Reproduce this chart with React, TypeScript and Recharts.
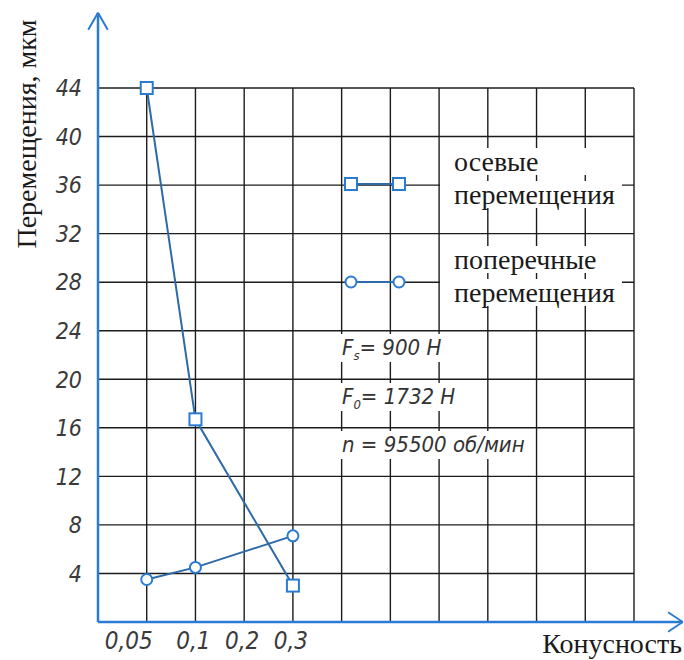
import React from "react";
import { LineChart, Line, XAxis, YAxis, CartesianGrid, ReferenceLine, Legend } from "recharts";

const categories = ["0,05", "0,1", "0,2", "0,3"];
const axialValues = [44, 16.7, null, 3.0];
const radialValues = [3.5, 4.5, null, 7.1];
const yTicks = [4, 8, 12, 16, 20, 24, 28, 32, 36, 40, 44];
const gridX = [1, 2, 3, 4, 5, 6, 7, 8, 9, 10, 11];

const data = categories.map((label, i) => ({
  pos: i + 1,
  label,
  axial: axialValues[i],
  radial: radialValues[i],
}));

const AXIS_BLUE = "#2a7bd2";
const LINE_BLUE = "#2e6aa8";
const GOST = "'Liberation Sans Narrow', 'DejaVu Sans Condensed', sans-serif";
const SERIF = "'Liberation Serif', 'DejaVu Serif', serif";

const SquareDot = (props: any) => {
  const { cx, cy, index } = props;
  if (cx == null || cy == null) return <g key={`sq-${index}`} />;
  return (
    <rect key={`sq-${index}`} x={cx - 6} y={cy - 6} width={12} height={12} fill="#fff" stroke={AXIS_BLUE} strokeWidth={2} />
  );
};

const CircleDot = (props: any) => {
  const { cx, cy, index } = props;
  if (cx == null || cy == null) return <g key={`ci-${index}`} />;
  return <circle key={`ci-${index}`} cx={cx} cy={cy} r={5.5} fill="#fff" stroke={AXIS_BLUE} strokeWidth={2} />;
};

const XTick = (props: any) => {
  const { x, y, payload, index } = props;
  const label = categories[payload.value - 1];
  return (
    <text x={index === 0 ? x + 6 : x - 2} y={y + 19} textAnchor={index === 0 ? "end" : "middle"} fontFamily={GOST} fontStyle="italic" fontSize={24} fill="#3a3a3a">
      {label}
    </text>
  );
};

const YTick = (props: any) => {
  const { x, y, payload } = props;
  return (
    <text x={x - 8} y={y} dy="0.36em" textAnchor="end" fontFamily={GOST} fontStyle="italic" fontSize={23} fill="#3a3a3a">
      {payload.value}
    </text>
  );
};

const legendRows = [
  { y: 184, square: true },
  { y: 282, square: false },
];

const renderLegend = (props: any) => {
  const { payload } = props;
  return (
    <div style={{ position: "relative", width: 684, height: 660 }}>
      {(payload || []).map((entry: any, i: number) => {
        const row = legendRows[i];
        const words = String(entry.value).split(" ");
        return (
          <React.Fragment key={entry.value}>
            <svg style={{ position: "absolute", left: 340, top: row.y - 10 }} width={70} height={20}>
              <line x1={11} y1={10} x2={59} y2={10} stroke={LINE_BLUE} strokeWidth={2} />
              {row.square ? (
                <>
                  <rect x={5} y={4} width={12} height={12} fill="#fff" stroke={AXIS_BLUE} strokeWidth={2} />
                  <rect x={53} y={4} width={12} height={12} fill="#fff" stroke={AXIS_BLUE} strokeWidth={2} />
                </>
              ) : (
                <>
                  <circle cx={11} cy={10} r={5.5} fill="#fff" stroke={AXIS_BLUE} strokeWidth={2} />
                  <circle cx={59} cy={10} r={5.5} fill="#fff" stroke={AXIS_BLUE} strokeWidth={2} />
                </>
              )}
            </svg>
            {words.map((w, j) => (
              <div
                key={w + j}
                style={{
                  position: "absolute",
                  left: 440,
                  width: 182,
                  top: row.y - 36 + j * 33,
                  height: 27,
                  lineHeight: "27px",
                  paddingLeft: 14,
                  boxSizing: "border-box",
                  background: "#fff",
                  fontFamily: SERIF,
                  fontSize: 28,
                  color: "#1a1a1a",
                  whiteSpace: "nowrap",
                }}
              >
                {w}
              </div>
            ))}
          </React.Fragment>
        );
      })}
    </div>
  );
};

const notes = [
  { main: "F", sub: "s", rest: "= 900 Н", y: 334 },
  { main: "F", sub: "0", rest: "= 1732 Н", y: 383 },
  { main: "n", sub: "", rest: " = 95500 об/мин", y: 431 },
];

export default function App() {
  return (
    <div style={{ position: "absolute", left: 0, top: 0, width: 684, height: 660, background: "#fff" }}>
      <LineChart width={684} height={660} data={data} margin={{ top: 88, right: 50, bottom: 0, left: 0 }}>
        <CartesianGrid horizontalValues={yTicks} verticalValues={gridX} stroke="#1c1c1c" strokeWidth={1.4} />
        <XAxis
          dataKey="pos"
          type="number"
          domain={[0, 11]}
          ticks={[1, 2, 3, 4]}
          height={38}
          axisLine={false}
          tickLine={false}
          tick={<XTick />}
          interval={0}
        />
        <YAxis
          type="number"
          domain={[0, 44]}
          ticks={yTicks}
          width={98}
          axisLine={false}
          tickLine={false}
          tick={<YTick />}
          interval={0}
          label={{
            content: () => (
              <text x={36} y={134} transform="rotate(-90 36 134)" textAnchor="middle" fontFamily={SERIF} fontSize={28} fill="#1a1a1a">
                Перемещения, мкм
              </text>
            ),
          }}
        />
        <Legend content={renderLegend} layout="horizontal" verticalAlign="middle" align="center" wrapperStyle={{ position: "absolute", left: 0, top: 0, width: 684, height: 660, pointerEvents: "none" }} />
        <Line dataKey="axial" name="осевые перемещения" type="linear" stroke={LINE_BLUE} strokeWidth={2} connectNulls dot={SquareDot} activeDot={false} isAnimationActive={false} />
        <Line dataKey="radial" name="поперечные перемещения" type="linear" stroke={LINE_BLUE} strokeWidth={2} connectNulls dot={CircleDot} activeDot={false} isAnimationActive={false} />
        <ReferenceLine segment={[{ x: 0, y: 0 }, { x: 12, y: 0 }]} ifOverflow="visible" stroke={AXIS_BLUE} strokeWidth={2.5} />
        <ReferenceLine segment={[{ x: 11.7, y: 0.8 }, { x: 12, y: 0 }]} ifOverflow="visible" stroke={AXIS_BLUE} strokeWidth={2} />
        <ReferenceLine segment={[{ x: 11.7, y: -0.8 }, { x: 12, y: 0 }]} ifOverflow="visible" stroke={AXIS_BLUE} strokeWidth={2} />
        <ReferenceLine segment={[{ x: 0, y: 0 }, { x: 0, y: 50.2 }]} ifOverflow="visible" stroke={AXIS_BLUE} strokeWidth={2.5} />
        <ReferenceLine segment={[{ x: -0.2, y: 48.8 }, { x: 0, y: 50.2 }]} ifOverflow="visible" stroke={AXIS_BLUE} strokeWidth={2} />
        <ReferenceLine segment={[{ x: 0.2, y: 48.8 }, { x: 0, y: 50.2 }]} ifOverflow="visible" stroke={AXIS_BLUE} strokeWidth={2} />
      </LineChart>
      {notes.map((n) => (
        <div
          key={n.rest}
          style={{
            position: "absolute",
            left: 338,
            top: n.y,
            height: 28,
            lineHeight: "28px",
            padding: "0 6px 0 4px",
            background: "#fff",
            fontFamily: GOST,
            fontStyle: "italic",
            fontSize: 22,
            color: "#333",
            whiteSpace: "pre",
          }}
        >
          {n.main}
          {n.sub && <sub style={{ fontSize: 13 }}>{n.sub}</sub>}
          {n.rest}
        </div>
      ))}
      <div
        style={{
          position: "absolute",
          right: 2,
          top: 630,
          fontFamily: SERIF,
          fontSize: 28,
          lineHeight: "28px",
          color: "#1a1a1a",
        }}
      >
        Конусность
      </div>
    </div>
  );
}
